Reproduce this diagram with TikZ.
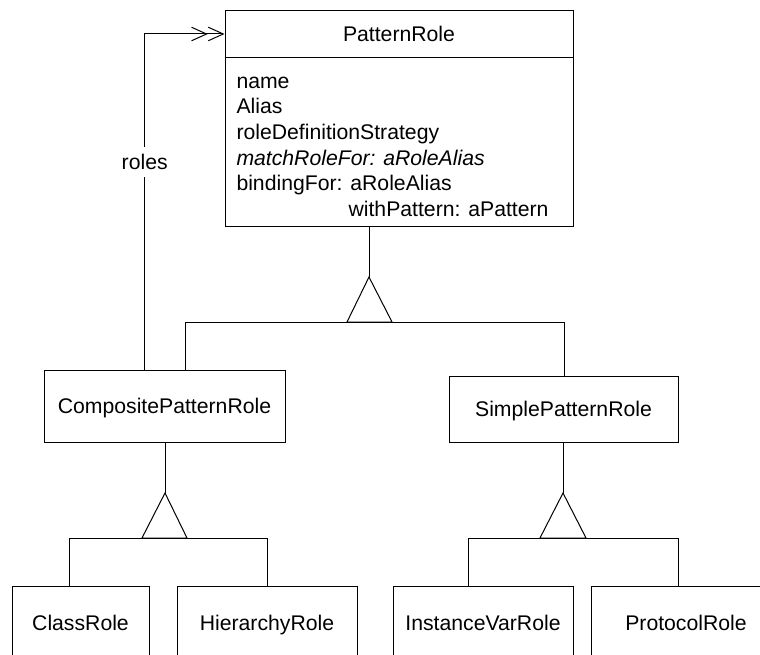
\documentclass[tikz,border=0pt]{standalone}
\usepackage{fontspec}
\setmainfont{Liberation Sans}
\usetikzlibrary{arrows.meta}
\begin{document}
\begin{tikzpicture}[x=1pt,y=-1pt,line width=1pt,
  txt/.style={inner sep=0pt,font=\fontsize{21.2}{25.6}\selectfont},
  box/.style={draw,inner sep=0pt,text height=15.2pt,text depth=0pt,font=\fontsize{21.2}{25.6}\selectfont},
  roletip/.style={-{Straight Barb[length=15pt,width=13.5pt]Straight Barb[length=15pt,width=13.5pt]}}
]
\path[use as bounding box] (0,0) rectangle (760,655);
\clip (0,0) rectangle (760,655);

% PatternRole class box
\node[draw,minimum width=348pt,minimum height=215pt,inner sep=0pt] (pr) at (399,118.5) {};
\coordinate (hd) at (0,58);
\draw (pr.west |- hd) -- (pr.east |- hd);
\node[txt,anchor=base] (prt) at (399,42) {PatternRole};
\node[txt,anchor=base west] (a1) at (236,88.5) {name};
\node[txt,anchor=base west] (a2) at (236,114) {Alias};
\node[txt,anchor=base west] (a3) at (236,139.5) {roleDefinitionStrategy};
\node[txt,anchor=base west] (a4) at (236,165.2) {\itshape matchRoleFor: aRoleAlias};
\node[txt,anchor=base west] (a5) at (236,191) {bindingFor: aRoleAlias};
\node[txt,anchor=base east] (a6) at (549,216.5) {withPattern: aPattern};

% second level
\node[box,minimum width=241pt,minimum height=72pt] (comp) at (164.5,406) {CompositePatternRole};
\node[box,minimum width=229pt,minimum height=66pt] (simp) at (563.5,409) {SimplePatternRole};

% third level
\node[box,minimum width=137pt,minimum height=74pt] (cls) at (80.5,623) {ClassRole};
\node[box,minimum width=180pt,minimum height=74pt] (hier) at (267,623) {HierarchyRole};
\node[box,minimum width=180pt,minimum height=74pt] (inst) at (483,623) {InstanceVarRole};
\node[box,minimum width=190pt,minimum height=74pt] (prot) at (686,623) {ProtocolRole};

% generalization 1
\coordinate (g1) at (369,277);
\coordinate (b1l) at (185,322);
\coordinate (b1r) at (564,322);
\draw (g1 |- pr.south) -- (g1);
\draw (g1) -- ++(-22,45) -- ++(45,0) -- cycle;
\draw (b1l |- comp.north) -- (b1l) -- (b1r) -- (b1r |- simp.north);

% generalization 2 (composite)
\coordinate (g2) at (165,493);
\coordinate (b2l) at (69,538);
\coordinate (b2r) at (267,538);
\draw (g2 |- comp.south) -- (g2);
\draw (g2) -- ++(-23,45) -- ++(45,0) -- cycle;
\draw (b2l |- cls.north) -- (b2l) -- (b2r) -- (b2r |- hier.north);

% generalization 3 (simple)
\coordinate (g3) at (563,493);
\coordinate (b3l) at (468,538);
\coordinate (b3r) at (678,538);
\draw (g3 |- simp.south) -- (g3);
\draw (g3) -- ++(-23,45) -- ++(46,0) -- cycle;
\draw (b3l |- inst.north) -- (b3l) -- (b3r) -- (b3r |- prot.north);

% roles association
\coordinate (r1) at (144,34);
\draw[roletip] (r1 |- comp.north) -- (r1) -- (r1 -| pr.west);
\node[txt,fill=white,inner ysep=7pt,inner xsep=1pt,anchor=base] (rl) at (144.7,169.3) {roles};
\end{tikzpicture}
\end{document}
